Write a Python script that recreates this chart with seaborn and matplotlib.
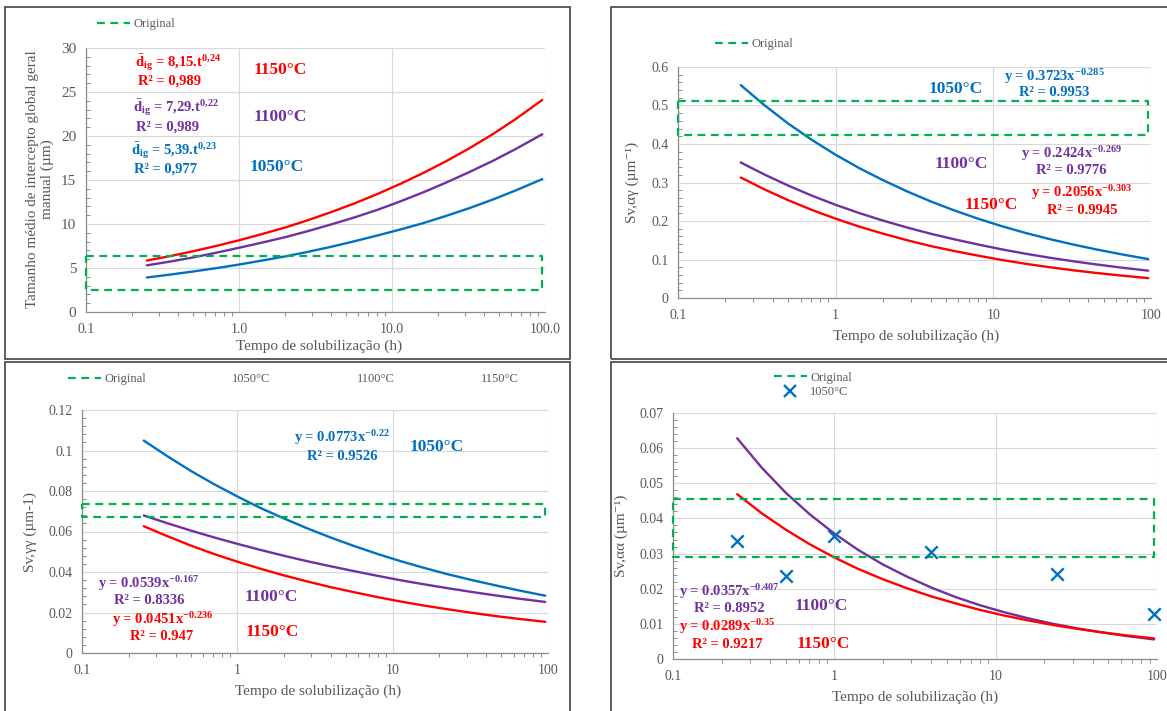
import numpy as np
import pandas as pd
import matplotlib
matplotlib.use("Agg")
import matplotlib.pyplot as plt
import seaborn as sns
from matplotlib.lines import Line2D
from matplotlib.patches import Rectangle
from matplotlib.ticker import (FixedLocator, MultipleLocator, FuncFormatter,
                               LogLocator, NullFormatter)

# ===============================
# data
# ===============================
temps = ["1050°C", "1100°C", "1150°C"]
t_fit = [0.25, 0.354, 0.5, 0.707, 1, 1.41, 2, 2.83, 4, 5.66, 8, 11.3,
         16, 22.6, 32, 45.3, 64, 96]

# panel 1 - tamanho medio de intercepto (um)
dig_1050 = [3.92, 4.25, 4.60, 4.98, 5.39, 5.84, 6.32, 6.84, 7.41, 8.03, 8.69,
            9.37, 10.1, 10.92, 11.8, 12.76, 13.8, 15.1]
dig_1100 = [5.30, 5.73, 6.20, 6.73, 7.30, 7.88, 8.50, 9.20, 9.95, 10.74, 11.6,
            12.56, 13.6, 14.71, 15.9, 17.15, 18.5, 20.2]
dig_1150 = [5.85, 6.35, 6.90, 7.50, 8.15, 8.85, 9.60, 10.44, 11.35, 12.33, 13.4,
            14.55, 15.8, 17.14, 18.6, 20.18, 21.9, 24.1]

# panel 2 - Sv,alfa-gama
svag_1050 = [0.553, 0.5005, 0.453, 0.4105, 0.372, 0.3374, 0.306, 0.2771, 0.251,
             0.2274, 0.206, 0.1866, 0.169, 0.1533, 0.139, 0.1259, 0.114, 0.101]
svag_1100 = [0.352, 0.3206, 0.292, 0.2658, 0.242, 0.2206, 0.201, 0.1832, 0.167,
             0.1524, 0.139, 0.1264, 0.115, 0.1048, 0.0955, 0.087, 0.0792, 0.071]
svag_1150 = [0.313, 0.282, 0.254, 0.2287, 0.206, 0.1855, 0.167, 0.1502, 0.135,
             0.1219, 0.110, 0.0989, 0.0889, 0.0801, 0.0721, 0.0649, 0.0585, 0.0516]

# panel 3 - Sv,gama-gama
svgg_1050 = [0.1049, 0.0972, 0.090, 0.0834, 0.0773, 0.0716, 0.0664, 0.0615, 0.057,
             0.0528, 0.0489, 0.0453, 0.042, 0.0389, 0.0361, 0.0335, 0.031, 0.0283]
svgg_1100 = [0.0679, 0.0641, 0.0605, 0.0571, 0.0539, 0.0509, 0.048, 0.0453, 0.0428,
             0.0404, 0.0381, 0.0359, 0.0339, 0.032, 0.0302, 0.0285, 0.0269, 0.0252]
svgg_1150 = [0.0626, 0.0577, 0.0531, 0.0489, 0.0451, 0.0416, 0.0383, 0.0353, 0.0325,
             0.03, 0.0276, 0.0254, 0.0234, 0.0216, 0.0199, 0.0183, 0.0169, 0.0154]

# panel 4 - Sv,alfa-alfa
svaa_1100 = [0.0628, 0.0545, 0.0473, 0.0411, 0.0357, 0.031, 0.0269, 0.0234, 0.0203,
             0.0176, 0.0153, 0.0133, 0.01156, 0.01003, 0.00871, 0.00757, 0.00657, 0.00557]
svaa_1150 = [0.0469, 0.0415, 0.0368, 0.0326, 0.0289, 0.0256, 0.0227, 0.0201, 0.0178,
             0.0158, 0.01396, 0.01236, 0.01095, 0.0097, 0.00859, 0.00761, 0.00674, 0.00585]
t_exp = [0.25, 0.5, 1, 4, 24, 96]
svaa_1050_pts = [0.0336, 0.0237, 0.0351, 0.0305, 0.0241, 0.0127]

# faixa "Original" (x inicio/fim, y inferior/superior)
box_x = [0.1, 96]
box_dig = [2.55, 6.4]
box_svag = [0.423, 0.511]
box_svgg = [0.067, 0.0736]
box_svaa = [0.029, 0.0456]

# ===============================
# style
# ===============================
sns.set_theme(style="white")
plt.rcParams["font.family"] = ["Liberation Serif", "DejaVu Serif"]
plt.rcParams["mathtext.fontset"] = "custom"
plt.rcParams["mathtext.rm"] = "Liberation Serif:bold"
plt.rcParams["mathtext.bf"] = "Liberation Serif:bold"
plt.rcParams["mathtext.it"] = "Liberation Serif:bold:italic"
plt.rcParams["mathtext.default"] = "rm"

palette = {"1050°C": "#0070C0", "1100°C": "#7030A0", "1150°C": "#FF0000"}
green = "#00B050"
gray_txt = "#595959"
dash = (0, (3.5, 2.5))

W, H = 1167, 711
fig = plt.figure(figsize=(W / 100, H / 100), dpi=100)
fig.patch.set_facecolor("white")


def add_ax(l, t, r, b):
    return fig.add_axes([l / W, 1 - b / H, (r - l) / W, (b - t) / H])


def frame(l, t, r, b):
    fig.add_artist(Rectangle((l / W, 1 - b / H), (r - l) / W, (b - t) / H,
                             transform=fig.transFigure, fill=False,
                             ec="#505050", lw=1.3))


def ftext(x, y, s, color, size):
    fig.text(x / W, 1 - y / H, s, color=color, fontsize=size,
             fontweight="bold", ha="center", va="center")


def long_df(series):
    t, v, g = [], [], []
    for name, vals in series.items():
        t += t_fit
        v += vals
        g += [name] * len(vals)
    return pd.DataFrame({"t": t, "v": v, "temp": g})


def style_axis(ax, ymax, ystep, yminor, xfmt, ysize=10):
    ax.set_xscale("log")
    ax.set_xlim(0.1, 100)
    ax.set_ylim(0, ymax)
    ax.xaxis.set_major_locator(FixedLocator([0.1, 1, 10, 100]))
    ax.xaxis.set_minor_locator(LogLocator(base=10, subs=np.arange(2, 10)))
    ax.xaxis.set_minor_formatter(NullFormatter())
    ax.xaxis.set_major_formatter(FuncFormatter(xfmt))
    ax.yaxis.set_major_locator(MultipleLocator(ystep))
    ax.yaxis.set_minor_locator(MultipleLocator(yminor))
    ax.yaxis.set_major_formatter(FuncFormatter(lambda v, p: "0" if abs(v) < 1e-12 else f"{v:g}"))
    ax.grid(True, which="major", color="#d9d9d9", lw=0.8)
    ax.set_axisbelow(True)
    for s in ["top", "right"]:
        ax.spines[s].set_visible(False)
    for s in ["left", "bottom"]:
        ax.spines[s].set_color("#8c8c8c")
        ax.spines[s].set_linewidth(0.9)
    ax.tick_params(which="major", direction="inout", length=6, width=0.8,
                   color="#8c8c8c", labelsize=10, labelcolor=gray_txt)
    ax.tick_params(axis="y", which="major", pad=4, labelsize=ysize)
    ax.tick_params(axis="x", which="major", pad=5)
    ax.tick_params(axis="y", which="minor", direction="in", length=3,
                   width=0.7, color="#8c8c8c", left=True)
    ax.tick_params(axis="x", which="minor", direction="out", length=3,
                   width=0.7, color="#8c8c8c", bottom=True)
    ax.set_xlabel("Tempo de solubilização (h)", fontsize=11, color=gray_txt)


def draw_box(ax, ylim):
    ax.plot([box_x[0], box_x[1], box_x[1], box_x[0], box_x[0]],
            [ylim[1], ylim[1], ylim[0], ylim[0], ylim[1]],
            color=green, ls=dash, lw=1.6, clip_on=False, zorder=4)


orig_handle = Line2D([], [], color=green, ls=dash, lw=1.6)
blank = Line2D([], [], color="none")


def legend(ax, handles, labels, x, y, **kw):
    ax.legend(handles, labels, loc="center left",
              bbox_to_anchor=(x / W, 1 - y / H), bbox_transform=fig.transFigure,
              frameon=False, fontsize=9, handlelength=2.6, handletextpad=0.3,
              borderpad=0, borderaxespad=0, labelcolor=gray_txt, **kw)


frame(5, 7, 570, 359)
frame(611, 7, 1172, 359)
frame(5, 362, 570, 715)
frame(611, 362, 1172, 715)

fmt1 = lambda v, p: f"{v:.1f}"
fmtg = lambda v, p: f"{v:g}"

# ===============================
# panel 1
# ===============================
ax1 = add_ax(86, 48, 545, 312)
draw_box(ax1, box_dig)
sns.lineplot(data=long_df({"1050°C": dig_1050, "1100°C": dig_1100, "1150°C": dig_1150}),
             x="t", y="v", hue="temp", palette=palette, lw=1.7, legend=False,
             estimator=None, ax=ax1)
style_axis(ax1, 30, 5, 1, fmt1, ysize=11)
ax1.set_ylabel("Tamanho médio de intercepto global geral\nmanual (µm)",
               fontsize=11, color=gray_txt, linespacing=1.1)
ax1.yaxis.set_label_coords(-0.07, 0.505)
ax1.xaxis.set_label_coords(0.507, -0.105)
legend(ax1, [orig_handle], ["Original"], 97, 24)

ftext(178, 63, r"$\bar{d}_{ig}$ = 8,15.t$^{0{,}24}$", palette["1150°C"], 10.5)
ftext(169, 81, "R² = 0,989", palette["1150°C"], 10.5)
ftext(280, 70, "1150°C", palette["1150°C"], 12.5)
ftext(176, 108, r"$\bar{d}_{ig}$ = 7,29.t$^{0{,}22}$", palette["1100°C"], 10.5)
ftext(168, 127, "R² = 0,989", palette["1100°C"], 10.5)
ftext(280, 117, "1100°C", palette["1100°C"], 12.5)
ftext(174, 151, r"$\bar{d}_{ig}$ = 5,39.t$^{0{,}23}$", palette["1050°C"], 10.5)
ftext(166, 169, "R² = 0,977", palette["1050°C"], 10.5)
ftext(277, 167, "1050°C", palette["1050°C"], 12.5)

# ===============================
# panel 2
# ===============================
ax2 = add_ax(678, 67, 1151, 298)
draw_box(ax2, box_svag)
sns.lineplot(data=long_df({"1050°C": svag_1050, "1100°C": svag_1100, "1150°C": svag_1150}),
             x="t", y="v", hue="temp", palette=palette, lw=1.7, legend=False,
             estimator=None, ax=ax2)
style_axis(ax2, 0.6, 0.1, 0.02, fmtg)
ax2.set_ylabel("Sv,αγ (µm⁻¹)", fontsize=11, color=gray_txt)
ax2.yaxis.set_label_coords(-0.082, 0.5)
ax2.xaxis.set_label_coords(0.503, -0.135)
legend(ax2, [orig_handle], ["Original"], 715, 44)

ftext(956, 89, "1050°C", palette["1050°C"], 12.5)
ftext(1054, 77, "y = 0.3723x$^{-0.285}$", palette["1050°C"], 10.5)
ftext(1054, 93, "R² = 0.9953", palette["1050°C"], 10.5)
ftext(961, 164, "1100°C", palette["1100°C"], 12.5)
ftext(1072, 154, "y = 0.2424x$^{-0.269}$", palette["1100°C"], 10.5)
ftext(1071, 171, "R² = 0.9776", palette["1100°C"], 10.5)
ftext(991, 205, "1150°C", palette["1150°C"], 12.5)
ftext(1082, 193, "y = 0.2056x$^{-0.303}$", palette["1150°C"], 10.5)
ftext(1082, 211, "R² = 0.9945", palette["1150°C"], 10.5)

# ===============================
# panel 3
# ===============================
ax3 = add_ax(82, 410, 548, 653)
draw_box(ax3, box_svgg)
sns.lineplot(data=long_df({"1050°C": svgg_1050, "1100°C": svgg_1100, "1150°C": svgg_1150}),
             x="t", y="v", hue="temp", palette=palette, lw=1.7, legend=False,
             estimator=None, ax=ax3)
style_axis(ax3, 0.12, 0.02, 0.004, fmtg)
ax3.set_ylabel("Sv,γγ (µm-1)", fontsize=11, color=gray_txt)
ax3.yaxis.set_label_coords(-0.097, 0.5)
ax3.xaxis.set_label_coords(0.506, -0.13)
legend(ax3, [orig_handle, blank, blank, blank], ["Original"] + temps, 68, 379,
       ncol=4, columnspacing=4.0)

ftext(342, 438, "y = 0.0773x$^{-0.22}$", palette["1050°C"], 10.5)
ftext(342, 456, "R² = 0.9526", palette["1050°C"], 10.5)
ftext(437, 447, "1050°C", palette["1050°C"], 12.5)
ftext(149, 584, "y = 0.0539x$^{-0.167}$", palette["1100°C"], 10.5)
ftext(149, 601, "R² = 0.8336", palette["1100°C"], 10.5)
ftext(271, 597, "1100°C", palette["1100°C"], 12.5)
ftext(163, 620, "y = 0.0451x$^{-0.236}$", palette["1150°C"], 10.5)
ftext(162, 637, "R² = 0.947", palette["1150°C"], 10.5)
ftext(272, 632, "1150°C", palette["1150°C"], 12.5)

# ===============================
# panel 4
# ===============================
ax4 = add_ax(673, 413, 1157, 659)
draw_box(ax4, box_svaa)
sns.lineplot(data=long_df({"1100°C": svaa_1100, "1150°C": svaa_1150}),
             x="t", y="v", hue="temp", palette=palette, lw=1.7, legend=False,
             estimator=None, ax=ax4)
sns.scatterplot(x=t_exp, y=svaa_1050_pts, marker="x", s=80, linewidth=1.7,
                color=palette["1050°C"], ax=ax4, zorder=5, clip_on=False)
style_axis(ax4, 0.07, 0.01, 0.002, fmtg)
ax4.set_ylabel("Sv,αα (µm⁻¹)", fontsize=11, color=gray_txt)
ax4.yaxis.set_label_coords(-0.093, 0.5)
ax4.xaxis.set_label_coords(0.5, -0.13)
x_handle = Line2D([], [], ls="none", marker="x", ms=8, mew=1.7, color=palette["1050°C"])
legend(ax4, [orig_handle, x_handle], ["Original", "1050°C"], 774, 385,
       labelspacing=0.2)

ftext(729, 592, "y = 0.0357x$^{-0.407}$", palette["1100°C"], 10.5)
ftext(729, 609, "R² = 0.8952", palette["1100°C"], 10.5)
ftext(821, 606, "1100°C", palette["1100°C"], 12.5)
ftext(727, 627, "y = 0.0289x$^{-0.35}$", palette["1150°C"], 10.5)
ftext(727, 644, "R² = 0.9217", palette["1150°C"], 10.5)
ftext(823, 644, "1150°C", palette["1150°C"], 12.5)

fig.savefig("out.png", dpi=100, facecolor="white")
